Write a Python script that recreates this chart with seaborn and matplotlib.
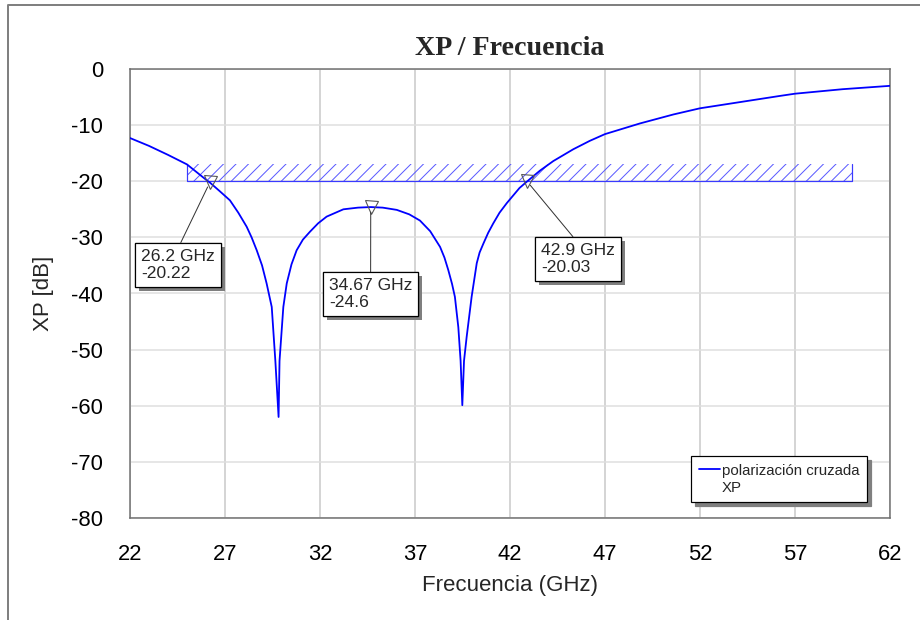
import pandas as pd
import seaborn as sns
import matplotlib.pyplot as plt
from matplotlib.lines import Line2D
from matplotlib import patheffects as pe

# XP curve
freq_ghz = [22.0, 23.0, 24.0, 25.0, 26.03, 26.2, 26.7, 27.26, 27.7, 28.14, 28.4, 28.67, 28.95,
            29.19, 29.46, 29.65, 29.82, 29.87, 30.07, 30.25, 30.5, 30.77, 31.1, 31.47, 31.9,
            32.35, 33.23, 34.0, 34.67, 35.3, 36.04, 36.7, 37.26, 37.8, 38.32, 38.55, 38.75,
            38.95, 39.1, 39.28, 39.40, 39.49, 39.58, 39.72, 39.98, 40.25, 40.4, 40.6, 40.85,
            41.12, 41.45, 41.83, 42.5, 42.9, 43.58, 44.28, 45.33, 46.2, 47.0, 48.84, 50.6,
            52.0, 54.1, 56.2, 57.0, 59.5, 62.0]
xp_db = [-12.3, -13.7, -15.3, -17.0, -19.8, -20.22, -21.7, -23.4, -25.6, -28.1, -30.0, -32.3,
         -35.0, -38.2, -42.4, -52.0, -62.0, -52.0, -42.4, -38.2, -34.8, -32.3, -30.4, -29.0,
         -27.5, -26.3, -25.0, -24.7, -24.6, -24.7, -25.1, -25.9, -27.0, -28.9, -31.7, -33.6,
         -35.8, -38.3, -40.6, -46.0, -52.0, -59.9, -52.0, -47.7, -40.6, -34.6, -32.7, -31.1,
         -29.2, -27.5, -25.6, -23.9, -21.2, -20.03, -18.1, -16.4, -14.3, -12.8, -11.6, -9.7,
         -8.1, -7.0, -5.9, -4.8, -4.4, -3.6, -3.0]

# markers
marker_freq = [26.2, 34.67, 42.9]
marker_xp = [-20.22, -24.6, -20.03]

# spec mask (hatched band)
mask_freq = [25, 60]
mask_low = -20
mask_high = -17

x_ticks = list(range(22, 63, 5))
y_ticks = list(range(-80, 1, 10))

DPI = 150


def pt(px):
    # pixel size -> points at the figure dpi
    return px * 72 / DPI


sns.set_theme(style="white")
plt.rcParams["font.family"] = ["Liberation Sans", "DejaVu Sans"]
plt.rcParams["axes.unicode_minus"] = False
plt.rcParams["hatch.linewidth"] = pt(1.0)

fig = plt.figure(figsize=(920 / DPI, 620 / DPI), dpi=DPI)
ax = fig.add_axes([130 / 920, 1 - 518 / 620, 760 / 920, 449 / 620])

df = pd.DataFrame({"Frecuencia": freq_ghz, "XP": xp_db})
sns.lineplot(data=df, x="Frecuencia", y="XP", ax=ax, color="#0000ff", lw=pt(1.8), zorder=3)

# hatched mask
ax.fill_between(mask_freq, mask_low, mask_high, facecolor="none", edgecolor="#5a5aff",
                linewidth=0, hatch="////", zorder=2)
ax.plot([mask_freq[0], mask_freq[0], mask_freq[1], mask_freq[1]],
        [mask_high, mask_low, mask_low, mask_high], color="#3a3aff", lw=pt(1.2), zorder=2)

ax.plot(marker_freq, marker_xp, ls="none", marker="v", ms=pt(13), mfc="none",
        mec="#555555", mew=pt(1.1), zorder=5)

# marker boxes (text top-left in data coords)
box_pos = [(22.58, -32.0), (32.47, -37.2), (43.63, -30.95)]
for f, v, pos in zip(marker_freq, marker_xp, box_pos):
    ann = ax.annotate(f"{f:g} GHz\n{v:g}", xy=(f, v), xytext=pos, textcoords="data",
                      ha="left", va="top", fontsize=pt(17.5), linespacing=1.22, zorder=6,
                      bbox=dict(boxstyle="square,pad=0.33", fc="white", ec="black", lw=pt(1.2)),
                      arrowprops=dict(arrowstyle="-", color="#333333", lw=pt(1.0),
                                      relpos=(0.5, 1), shrinkA=0, shrinkB=pt(5)))
    ann.get_bbox_patch().set_path_effects([
        pe.withSimplePatchShadow(offset=(pt(4), -pt(4)), shadow_rgbFace="#7f7f7f", alpha=1),
        pe.Normal()])

ax.set_xlim(22, 62)
ax.set_ylim(-80, 0)
ax.set_xticks(x_ticks)
ax.set_yticks(y_ticks)
ax.set_axisbelow(True)
ax.grid(axis="x", color="#c8c8c8", lw=pt(1.5))
ax.grid(axis="y", color="#dedede", lw=pt(1.5))
for s in ax.spines.values():
    s.set_visible(True)
    s.set_color("#6e6e6e")
    s.set_linewidth(pt(1.5))

ax.tick_params(axis="both", length=0, labelsize=pt(22), colors="black")
ax.tick_params(axis="y", pad=pt(27))
ax.tick_params(axis="x", pad=pt(26))
ax.set_xlabel("Frecuencia (GHz)", fontsize=pt(22.3), labelpad=pt(10))
ax.set_ylabel("XP [dB]", fontsize=pt(22.3), labelpad=pt(17))
ax.set_title("XP / Frecuencia", fontfamily="Liberation Serif", fontweight="bold",
             fontsize=pt(28), pad=pt(14))

handles = [Line2D([], [], color="#0000ff", lw=pt(1.8)), Line2D([], [], color="none")]
leg = ax.legend(handles, ["polarización cruzada", "XP"], loc="upper left",
                bbox_to_anchor=((691 - 130) / 760, (518 - 456) / 449), borderaxespad=0,
                fontsize=pt(15), frameon=True, fancybox=False, edgecolor="black",
                framealpha=1, handlelength=1.4, handletextpad=0.15, labelspacing=0.2,
                borderpad=0.5,
                shadow={"ox": pt(4), "oy": -pt(4), "color": "#7f7f7f", "alpha": 1})
leg.get_frame().set_linewidth(pt(1.2))

# outer window frame (left and top)
fig.add_artist(Line2D([8 / 920, 8 / 920, 1], [0, 1 - 5 / 620, 1 - 5 / 620],
                      transform=fig.transFigure, color="#808080", lw=pt(2)))

fig.savefig("out.png", dpi=DPI)
